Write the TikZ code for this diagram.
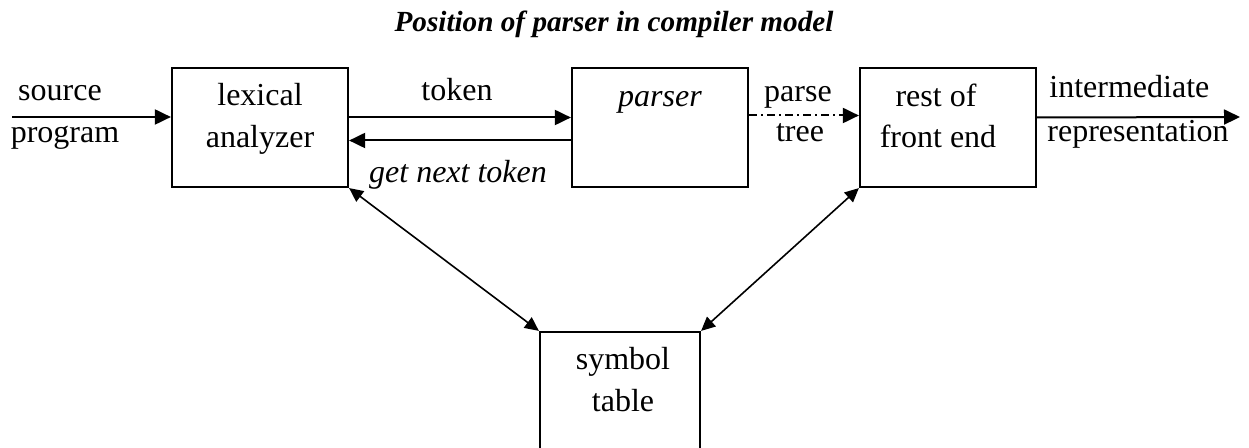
\documentclass[tikz,border=0pt]{standalone}
\usepackage{fontspec}
\setmainfont{Liberation Serif}
\usetikzlibrary{arrows.meta}
\begin{document}
\begin{tikzpicture}[x=0.5pt,y=-0.5pt,
  box/.style={draw,line width=1.1pt,minimum width=88pt,minimum height=59.5pt,inner sep=0pt},
  txt/.style={anchor=base,inner sep=0pt,font=\fontsize{16}{19}\selectfont},
  itxt/.style={txt,font=\fontsize{16}{19}\selectfont\itshape},
  arr/.style={line width=1pt,-{Triangle[length=8pt,width=7.5pt]}},
  darr/.style={line width=0.8pt,{Triangle[length=7pt,width=6.5pt]}-{Triangle[length=7pt,width=6.5pt]}}
]
\useasboundingbox (0,0) rectangle (1249,448);
\clip (0,0) rectangle (1249,448);
% boxes
\node[box] (lex) at (260,127.5) {};
\node[box] (par) at (660,127.5) {};
\node[box] (rest) at (948,127.5) {};
\node[box,minimum width=80pt,minimum height=62pt] (sym) at (620,394) {};
% free ends
\coordinate (srcL) at (12,117);
\coordinate (outR) at (1240,117);
% texts
\node[txt,font=\fontsize{14.6}{18}\selectfont\bfseries\itshape] (title) at (614,32) {Position of parser in compiler model};
\node[txt] (src1) at (60,101) {source};
\node[txt] (src2) at (65,143) {program};
\node[txt] (lex1) at (260,106) {lexical};
\node[txt] (lex2) at (260,148) {analyzer};
\node[txt] (tok) at (457,101) {token};
\node[itxt] (par1) at (660,107) {parser};
\node[itxt] (gnt) at (458,183) {get next token};
\node[txt] (pt1) at (798,102) {parse};
\node[txt] (pt2) at (800,142) {tree};
\node[txt] (rest1) at (936,107) {rest of};
\node[txt] (rest2) at (938,148) {front end};
\node[txt,anchor=base west] (int1) at (1049,98) {intermediate};
\node[txt,anchor=base west] (int2) at (1047,142) {representation};
\node[txt] (sym1) at (623,370) {symbol};
\node[txt] (sym2) at (623,412) {table};
% connectors
\draw[arr] (srcL) -- (srcL -| lex.west);
\draw[arr] ([yshift=5pt]lex.east) -- ([yshift=5pt]par.west);
\draw[arr] ([yshift=-6.5pt]par.west) -- ([yshift=-6.5pt]lex.east);
\draw[arr,dash pattern=on 4pt off 2pt on 1pt off 2pt] ([yshift=6pt]par.east) -- ([yshift=6pt]rest.west);
\draw[arr] ([yshift=5pt]rest.east) -- (outR);
\draw[darr] (lex.south east) -- (sym.north west);
\draw[darr] (rest.south west) -- (sym.north east);
\end{tikzpicture}
\end{document}
